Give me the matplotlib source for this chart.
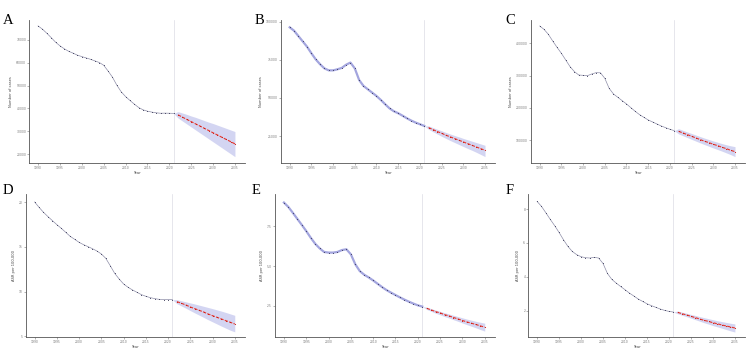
import matplotlib
matplotlib.use("Agg")
import matplotlib.pyplot as plt

HIST_YEARS = list(range(1990, 2022))
PRED_YEARS = list(range(2022, 2036))
BAND_YEARS = list(range(2021, 2036))

# A - number of cases
A_HIST = [76100, 74700, 72900, 71000, 69000, 67400, 66100, 65000, 64200, 63300,
          62700, 62100, 61500, 60800, 60100, 58900, 56400, 53700, 50200, 47300,
          45200, 43500, 41900, 40400, 39400, 38800, 38400, 38100, 37900, 37950,
          37900, 37850]
A_PRED = [37200, 36200, 35200, 34250, 33250, 32300, 31300, 30350, 29350, 28400,
          27400, 26450, 25500, 24500]
A_HI = [37850, 38600, 38000, 37400, 36700, 36100, 35400, 34700, 34000, 33400,
        32700, 32000, 31300, 30600, 29900]
A_LO = [37850, 35800, 34500, 33200, 31900, 30600, 29300, 28000, 26700, 25400,
        24100, 22800, 21500, 20200, 18900]

# B - number of cases
B_HIST = [96300, 94100, 90600, 87100, 83600, 79300, 75300, 72100, 69400, 68100,
          68100, 68800, 69700, 71800, 73200, 69400, 61800, 57900, 55700, 53500,
          51300, 48700, 45900, 43200, 41300, 40000, 38400, 36700, 35200, 33900,
          32800, 31700]
B_PRED = [30600, 29300, 28000, 26900, 25600, 24500, 23400, 22300, 21200, 20100,
          19000, 17900, 16800, 15700]
B_HI = [31700, 31700, 30600, 29500, 28500, 27400, 26400, 25400, 24500, 23500,
        22600, 21700, 20800, 19900, 19000]
B_LO = [31700, 29500, 27900, 26400, 24900, 23500, 22100, 20800, 19500, 18200,
        16900, 15700, 14400, 13000, 11600]

# C - number of cases
C_HIST = [453800, 443400, 427900, 407200, 387600, 369000, 348300, 327600, 312100,
          301700, 300700, 299700, 304900, 309000, 308500, 291400, 260400, 242800,
          232500, 222100, 211800, 200400, 189000, 178700, 170400, 162200, 156000,
          149700, 143500, 138400, 133200, 129100]
C_PRED = [127000, 121800, 116700, 111500, 106300, 101100, 96000, 91800, 86700,
          82500, 77400, 73200, 68000, 63900]
C_HI = [129100, 135000, 130000, 125000, 120200, 115300, 110500, 105800, 101400,
        97000, 93000, 88900, 85300, 82000, 79400]
C_LO = [129100, 119000, 113300, 107700, 102000, 96500, 91000, 85600, 80500,
        75300, 70400, 65400, 60000, 54500, 48400]

# D - age-standardised rate
D_HIST = [20.04, 19.44, 18.88, 18.40, 17.95, 17.50, 17.09, 16.64, 16.19, 15.86,
          15.52, 15.26, 15.04, 14.81, 14.55, 14.22, 13.73, 12.91, 12.05, 11.42,
          10.86, 10.49, 10.19, 9.93, 9.67, 9.48, 9.33, 9.22, 9.14, 9.11, 9.11, 9.10]
D_PRED = [8.88, 8.70, 8.51, 8.28, 8.10, 7.91, 7.72, 7.50, 7.31, 7.13, 6.94, 6.75,
          6.57, 6.38]
D_HI = [9.10, 9.10, 8.98, 8.86, 8.74, 8.62, 8.49, 8.36, 8.23, 8.10, 7.96, 7.82,
        7.67, 7.51, 7.35]
D_LO = [9.10, 8.65, 8.40, 8.15, 7.88, 7.62, 7.37, 7.12, 6.86, 6.62, 6.38, 6.14,
        5.91, 5.68, 5.50]

# E - age-standardised rate
E_HIST = [9.01, 8.73, 8.36, 7.98, 7.60, 7.21, 6.79, 6.41, 6.12, 5.89, 5.85, 5.85,
          5.89, 6.01, 6.06, 5.74, 5.11, 4.68, 4.45, 4.28, 4.09, 3.88, 3.67, 3.48,
          3.32, 3.17, 3.02, 2.88, 2.75, 2.63, 2.52, 2.44]
E_PRED = [2.33, 2.23, 2.12, 2.04, 1.93, 1.85, 1.75, 1.66, 1.56, 1.47, 1.39, 1.31,
          1.22, 1.14]
E_HI = [2.44, 2.40, 2.31, 2.22, 2.14, 2.05, 1.97, 1.89, 1.81, 1.73, 1.65, 1.58,
        1.51, 1.45, 1.39]
E_LO = [2.44, 2.26, 2.14, 2.02, 1.92, 1.81, 1.72, 1.61, 1.51, 1.40, 1.30, 1.20,
        1.10, 0.99, 0.89]

# F - age-standardised rate
F_HIST = [8.45, 8.16, 7.78, 7.39, 7.02, 6.62, 6.19, 5.80, 5.50, 5.31, 5.19, 5.13,
          5.11, 5.15, 5.11, 4.79, 4.20, 3.85, 3.63, 3.43, 3.24, 3.04, 2.87, 2.69,
          2.55, 2.41, 2.30, 2.20, 2.10, 2.02, 1.96, 1.92]
F_PRED = [1.90, 1.82, 1.75, 1.67, 1.59, 1.51, 1.43, 1.37, 1.29, 1.23, 1.16, 1.10,
          1.04, 0.98]
F_HI = [1.92, 1.98, 1.91, 1.85, 1.78, 1.72, 1.65, 1.59, 1.53, 1.47, 1.41, 1.36,
        1.31, 1.26, 1.22]
F_LO = [1.92, 1.82, 1.73, 1.65, 1.56, 1.47, 1.38, 1.29, 1.21, 1.12, 1.05, 0.97,
        0.89, 0.81, 0.74]

X_TICKS = [1990, 1995, 2000, 2005, 2010, 2015, 2020, 2025, 2030, 2035]
LABEL_CASES = "Number of cases"
LABEL_RATE = "ASR per 100,000"

PANELS = [
    ("A", A_HIST, A_PRED, A_LO, A_HI, LABEL_CASES,
     [20000, 30000, 40000, 50000, 60000, 70000], (16000, 78700)),
    ("B", B_HIST, B_PRED, B_LO, B_HI, LABEL_CASES,
     [25000, 50000, 75000, 100000], (7200, 101100)),
    ("C", C_HIST, C_PRED, C_LO, C_HI, LABEL_CASES,
     [100000, 200000, 300000, 400000], (27700, 472400)),
    ("D", D_HIST, D_PRED, D_LO, D_HI, LABEL_RATE, [5, 10, 15, 20], (4.89, 20.93)),
    ("E", E_HIST, E_PRED, E_LO, E_HI, LABEL_RATE, [2.5, 5.0, 7.5], (0.5, 9.55)),
    ("F", F_HIST, F_PRED, F_LO, F_HI, LABEL_RATE, [2, 4, 6, 8], (0.43, 8.89)),
]

# axes rectangles in pixels: left, right, top, bottom (figure 750 x 348)
BOXES = [
    (29.3, 245, 20, 163.3), (281, 495, 20, 163.3), (531, 745, 20, 163.3),
    (25.7, 245, 194, 337.3), (275, 495, 194, 337.3), (528.3, 745, 194, 337.3),
]
THICK_HIST = {"B", "E"}

W, H = 750, 348
fig = plt.figure(figsize=(W / 100, H / 100), dpi=100)

for (letter, hist, pred, lo, hi, ylabel, yticks, ylim), (l, r, t, b) in zip(PANELS, BOXES):
    ax = fig.add_axes([l / W, 1 - b / H, (r - l) / W, (b - t) / H])
    ax.fill_between(BAND_YEARS, lo, hi, color="#c9cbef", alpha=0.8, linewidth=0)
    ax.axvline(2021, color="#dcdce4", linewidth=0.5)
    if letter in THICK_HIST:
        ax.plot(HIST_YEARS, hist, color="#a3a5de", linewidth=1.6, zorder=3)
    else:
        ax.plot(HIST_YEARS, hist, color="#8e8ea8", linewidth=0.5, zorder=3)
    ax.plot(HIST_YEARS, hist, "o", color="#3a3a58", markersize=0.75,
            markeredgewidth=0, zorder=4)
    ax.plot(PRED_YEARS, pred, "--", color="#e8352a", linewidth=0.8,
            dashes=(3, 1.2), zorder=3)
    ax.plot(PRED_YEARS, pred, "o", color="#c81e16", markersize=0.8,
            markeredgewidth=0, zorder=4)

    ax.set_xlim(1988.0, 2037.3)
    ax.set_ylim(*ylim)
    ax.set_xticks(X_TICKS)
    ax.set_yticks(yticks)
    ax.tick_params(labelsize=2.2, colors="#777777", length=1.2, width=0.4, pad=1.0)
    for side in ("top", "right"):
        ax.spines[side].set_visible(False)
    for side in ("left", "bottom"):
        ax.spines[side].set_color("#555555")
        ax.spines[side].set_linewidth(0.6)
    ax.set_xlabel("Year", fontsize=2.6, color="#444444", labelpad=0.8)
    ax.set_ylabel(ylabel, fontsize=2.6, color="#444444", labelpad=2)

    fig.text((l - 26) / W if letter in "ABC" else (l - 23) / W,
             1 - (t - 6) / H if letter in "ABC" else 1 - (t - 10) / H,
             letter, fontsize=10.5, family="Liberation Serif", va="top", ha="left")

fig.savefig("out.png", dpi=100)
